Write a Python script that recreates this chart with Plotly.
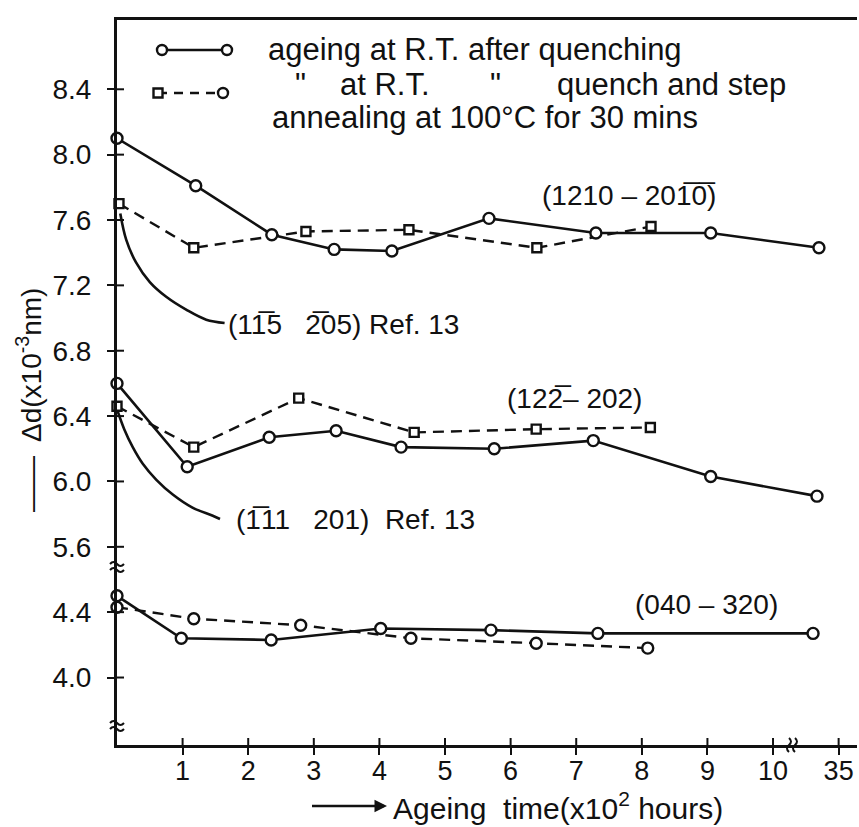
import plotly.graph_objects as go

# ---------------- data ----------------
# x: position on the (broken) ageing-time axis, units of 10^2 hours (last tick = 35)
# y: Δd in units of 10^-3 nm (lower group sits below an axis break)
x_tick_vals = [1, 2, 3, 4, 5, 6, 7, 8, 9, 10, 11]
x_tick_text = ["1", "2", "3", "4", "5", "6", "7", "8", "9", "10", "35"]
y_tick_upper = [5.6, 6.0, 6.4, 6.8, 7.2, 7.6, 8.0, 8.4]
y_tick_lower = [4.0, 4.4]

# (1210 - 2010)
x_1210_rt = [0, 1.20, 2.36, 3.31, 4.19, 5.67, 7.30, 9.05, 10.70]
y_1210_rt = [8.10, 7.81, 7.51, 7.42, 7.41, 7.61, 7.52, 7.52, 7.43]
x_1210_step = [0.03, 1.17, 2.88, 4.45, 6.40, 8.14]
y_1210_step = [7.70, 7.43, 7.53, 7.54, 7.43, 7.56]
x_ref_115 = [0.05, 0.14, 0.29, 0.50, 0.75, 1.06, 1.36, 1.64]
y_ref_115 = [7.64, 7.48, 7.34, 7.22, 7.13, 7.05, 6.99, 6.97]

# (122 - 202)
x_122_rt = [0, 1.07, 2.32, 3.34, 4.33, 5.75, 7.26, 9.05, 10.67]
y_122_rt = [6.60, 6.09, 6.27, 6.31, 6.21, 6.20, 6.25, 6.03, 5.91]
x_122_step = [0, 1.17, 2.77, 4.53, 6.39, 8.13]
y_122_step = [6.46, 6.21, 6.51, 6.30, 6.32, 6.33]
x_ref_111 = [0.01, 0.11, 0.24, 0.39, 0.60, 0.85, 1.15, 1.46, 1.57]
y_ref_111 = [6.43, 6.32, 6.21, 6.11, 6.01, 5.92, 5.84, 5.79, 5.77]

# (040 - 320)  -- below the axis break
x_040_rt = [0, 0.98, 2.35, 4.02, 5.70, 7.33, 10.61]
y_040_rt = [4.50, 4.24, 4.23, 4.30, 4.29, 4.27, 4.27]
x_040_step = [0, 1.17, 2.80, 4.48, 6.39, 8.09]
y_040_step = [4.43, 4.36, 4.32, 4.24, 4.21, 4.18]

# ---------------- layout geometry ----------------
W, H = 859, 827
ML, MR, MT, MB = 117, 2, 20, 82
PW, PH = W - ML - MR, H - MT - MB
X_RANGE = [0, 11.28]
Y_RANGE = [4.387, 8.824]
BREAK_SHIFT = 0.8  # lower segment drawn shifted up by this amount


def lower(vals):
    return [v + BREAK_SHIFT for v in vals]


def px(x):
    return (x - ML) / PW


def py(y):
    return (H - MB - y) / PH


BLACK = "#111111"
FONT = "Liberation Sans, Arial, sans-serif"

solid_line = dict(color=BLACK, width=2.6)
dash_line = dict(color=BLACK, width=2.4, dash="11px,7px")
circ = dict(symbol="circle", size=11, color="white", line=dict(color=BLACK, width=2.4))
sq = dict(symbol="square", size=9, color="white", line=dict(color=BLACK, width=2.4))

fig = go.Figure()


def add(x, y, line, marker=None, spline=False):
    fig.add_trace(go.Scatter(
        x=x, y=y, mode="lines+markers" if marker else "lines",
        line=dict(**line, shape="spline" if spline else "linear"),
        marker=marker, showlegend=False, cliponaxis=False, hoverinfo="x+y"))


add(x_ref_115, y_ref_115, solid_line, spline=True)
add(x_ref_111, y_ref_111, solid_line, spline=True)
add(x_1210_step, y_1210_step, dash_line, sq)
add(x_1210_rt, y_1210_rt, solid_line, circ)
add(x_122_step, y_122_step, dash_line, sq)
add(x_122_rt, y_122_rt, solid_line, circ)
add(x_040_step, lower(y_040_step), dash_line, circ)
add(x_040_rt, lower(y_040_rt), solid_line, circ)

y_tick_vals = lower(y_tick_lower) + y_tick_upper
y_tick_text = [f"{v:.1f}" for v in y_tick_lower + y_tick_upper]

fig.update_layout(
    width=W, height=H,
    margin=dict(l=ML, r=MR, t=MT, b=MB),
    paper_bgcolor="white", plot_bgcolor="white",
    font=dict(family=FONT, color=BLACK, size=26),
    showlegend=False,
    xaxis=dict(range=X_RANGE, tickvals=x_tick_vals, ticktext=x_tick_text,
               showline=True, linecolor=BLACK, linewidth=3, mirror=True,
               ticks="outside", ticklen=7, tickwidth=2, tickcolor=BLACK,
               showgrid=False, zeroline=False, ticklabelstandoff=-7,
               tickfont=dict(family=FONT, size=27, color=BLACK)),
    yaxis=dict(range=Y_RANGE, tickvals=y_tick_vals, ticktext=y_tick_text,
               showline=True, linecolor=BLACK, linewidth=3,
               ticks="outside", ticklen=7, tickwidth=2, tickcolor=BLACK,
               showgrid=False, zeroline=False, ticklabelstandoff=10,
               tickfont=dict(family=FONT, size=28, color=BLACK)),
)

shapes = []
# inner halves of the crossing tick marks
for v in x_tick_vals:
    shapes.append(dict(type="line", xref="x", yref="paper", ysizemode="pixel", yanchor=0,
                       x0=v, x1=v, y0=0, y1=7, line=dict(color=BLACK, width=2)))
for v in y_tick_vals:
    shapes.append(dict(type="line", xref="paper", yref="y", xsizemode="pixel", xanchor=0,
                       x0=0, x1=7, y0=v, y1=v, line=dict(color=BLACK, width=2)))

# legend samples
shapes.append(dict(type="line", xref="paper", yref="paper", x0=px(162), x1=px(227),
                   y0=py(50), y1=py(50), line=dict(color=BLACK, width=2.6)))
shapes.append(dict(type="line", xref="paper", yref="paper", x0=px(158), x1=px(223),
                   y0=py(93), y1=py(93), line=dict(color=BLACK, width=2.4, dash="9px,7px")))


def circle_at(xp, yp, r=5):
    return dict(type="circle", xref="paper", yref="paper", xsizemode="pixel", ysizemode="pixel",
                xanchor=px(xp), yanchor=py(yp), x0=-r, x1=r, y0=-r, y1=r,
                fillcolor="white", line=dict(color=BLACK, width=2.4))


def square_at(xp, yp, r=4.5):
    return dict(type="rect", xref="paper", yref="paper", xsizemode="pixel", ysizemode="pixel",
                xanchor=px(xp), yanchor=py(yp), x0=-r, x1=r, y0=-r, y1=r,
                fillcolor="white", line=dict(color=BLACK, width=2.4))


shapes += [circle_at(162, 50), circle_at(227, 50), square_at(158, 93), circle_at(223, 93)]


# axis break marks
def path_at(xp, yp, path):
    return dict(type="path", xref="paper", yref="paper", xsizemode="pixel", ysizemode="pixel",
                xanchor=px(xp), yanchor=py(yp), path=path, line=dict(color=BLACK, width=2))


ybreak = "M-7,1 Q-3.5,5 0,1 T7,1 M-7,-5 Q-3.5,-1 0,-5 T7,-5"
shapes.append(path_at(117, 565, ybreak))
shapes.append(path_at(117, 724, ybreak))
shapes.append(path_at(793, 745, "M-4,-7 Q-8,-3.5 -4,0 T-4,7 M2,-7 Q-2,-3.5 2,0 T2,7"))
fig.update_layout(shapes=shapes)

ann = []


def text(xp, yp, s, size=28, anchor="left", angle=0):
    ann.append(dict(x=px(xp), y=py(yp), xref="paper", yref="paper", text=s, showarrow=False,
                    xanchor=anchor, yanchor="middle", textangle=angle,
                    font=dict(family=FONT, size=size, color=BLACK)))


OL = "\u0305"
# legend text
text(266, 49, "ageing at R.T. after quenching", 31)
text(293, 85, "\"", 31)
text(338, 85, "at R.T.", 31)
text(488, 85, "\"", 31)
text(555, 85, "quench and step", 31)
text(270, 118, "annealing at 100°C for 30 mins", 31)
# curve labels
text(540, 196, "(1210 – 201" + OL + "0" + OL + ")", 28)
text(226, 325, "(11" + OL + "5   2" + OL + "05) Ref. 13", 28)
text(505, 398, "(122" + OL + "– 202)", 28)
text(234, 519, "(1" + OL + "11   201)  Ref. 13", 28)
text(633, 604, "(040 – 320)", 28)
# axis titles
text(29, 400, "——  Δd(x10<sup>-3</sup>nm)", 28, anchor="center", angle=-90)
text(391, 806, "Ageing  time(x10<sup>2</sup> hours)", 30)
ann.append(dict(x=px(387), y=py(806), xref="paper", yref="paper", ax=-78, ay=0,
                text=" ", showarrow=True, arrowhead=2, arrowsize=1, arrowwidth=2.5,
                arrowcolor=BLACK, font=dict(size=10)))
fig.update_layout(annotations=ann)

fig.write_html("out.html")
